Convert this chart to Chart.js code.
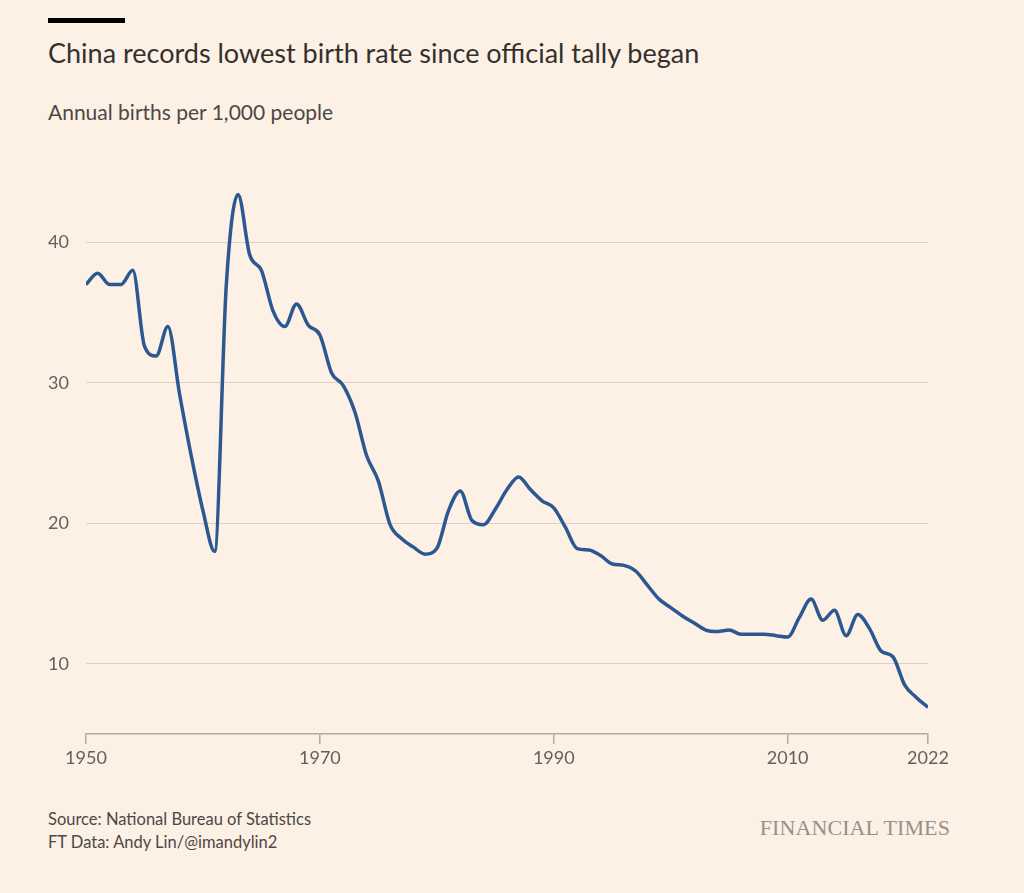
<!DOCTYPE html>
<html>
<head>
<meta charset="utf-8">
<script src="https://cdn.jsdelivr.net/npm/chart.js@4.4.1/dist/chart.umd.min.js"></script>
<style>
  html, body { margin: 0; padding: 0; }
  body {
    width: 1024px; height: 893px;
    background: #fdf0e5;
    position: relative;
    overflow: hidden;
    font-family: Lato, "Noto Sans", sans-serif;
    color: #33302e;
  }
  .bar { position: absolute; left: 48px; top: 18px; width: 77px; height: 5px; background: #000; }
  h1 { position: absolute; left: 48px; top: 36px; margin: 0; font-weight: 400; font-size: 27px; line-height: 34px; }
  .sub { position: absolute; left: 48px; top: 99px; font-size: 21px; line-height: 26px; color: #4d4845; }
  .chart-wrap { position: absolute; left: 48px; top: 150px; width: 976px; height: 630px; }
  .source { position: absolute; left: 48px; top: 808px; font-size: 16.5px; line-height: 23px; color: #4d4845; }
  .brand { position: absolute; right: 74px; top: 815px; font-family: "Liberation Serif", "DejaVu Serif", serif; font-size: 22px; color: #98908a; letter-spacing: 0.1px; }
</style>
</head>
<body>
<div class="bar"></div>
<h1>China records lowest birth rate since official tally began</h1>
<div class="sub">Annual births per 1,000 people</div>
<div class="chart-wrap"><canvas id="birthChart"></canvas></div>
<div class="source">Source: National Bureau of Statistics<br>FT Data: Andy Lin/@imandylin2</div>
<div class="brand">FINANCIAL TIMES</div>

<script>
// Dados: taxa de natalidade anual (por 1.000 pessoas)
const years = [];
for (let y = 1950; y <= 2022; y++) years.push(y);

const birthRate = [
  37.0, 37.8, 37.0, 37.0, 38.0, 32.6, 31.9, 34.0, 29.2, 24.8, // 1950-1959
  20.9, 18.0, 37.0, 43.4, 39.1, 38.0, 35.1, 34.0, 35.6, 34.1, // 1960-1969
  33.4, 30.7, 29.8, 27.9, 24.8, 23.0, 19.9, 18.9, 18.3, 17.8, // 1970-1979
  18.2, 20.9, 22.3, 20.2, 19.9, 21.0, 22.4, 23.3, 22.4, 21.6, // 1980-1989
  21.1, 19.7, 18.2, 18.1, 17.7, 17.1, 17.0, 16.6, 15.6, 14.6, // 1990-1999
  14.0, 13.4, 12.9, 12.4, 12.3, 12.4, 12.1, 12.1, 12.1, 12.0, // 2000-2009
  11.9, 13.3, 14.6, 13.1, 13.8, 12.0, 13.5, 12.5, 10.9, 10.5, // 2010-2019
  8.5, 7.6, 6.9                                               // 2020-2022
];

const xTicks = [1950, 1970, 1990, 2010, 2022];
const yTicks = [10, 20, 30, 40];

const points = years.map((y, i) => ({ x: y, y: birthRate[i] }));

const ctx = document.getElementById('birthChart').getContext('2d');

new Chart(ctx, {
  type: 'line',
  data: {
    datasets: [{
      label: 'Births per 1,000 people',
      data: points,
      borderColor: '#2c5891',
      borderWidth: 3.5,
      pointRadius: 0,
      fill: false,
      cubicInterpolationMode: 'monotone'
    }]
  },
  options: {
    responsive: true,
    maintainAspectRatio: false,
    animation: false,
    layout: { padding: { top: 22, right: 96, left: 0, bottom: 0 } },
    scales: {
      x: {
        type: 'linear',
        min: 1950,
        max: 2022,
        afterBuildTicks: s => { s.ticks = xTicks.map(v => ({ value: v })); },
        afterFit: s => { s.height = 46; },
        ticks: {
          color: '#66605c',
          font: { family: 'Lato, "Noto Sans", sans-serif', size: 18 },
          padding: 3,
          maxRotation: 0,
          callback: v => String(v)
        },
        grid: {
          drawOnChartArea: false,
          drawTicks: true,
          tickLength: 10,
          color: '#b3aaa2',
          lineWidth: 1.5
        },
        border: { display: true, color: '#b3aaa2', width: 1.5 }
      },
      y: {
        min: 5,
        max: 45,
        afterBuildTicks: s => { s.ticks = yTicks.map(v => ({ value: v })); },
        afterFit: s => { s.width = 38; },
        ticks: {
          color: '#66605c',
          font: { family: 'Lato, "Noto Sans", sans-serif', size: 18 },
          crossAlign: 'far',
          padding: 0
        },
        grid: {
          drawTicks: false,
          color: '#dcd1c7',
          lineWidth: 1
        },
        border: { display: false }
      }
    },
    plugins: {
      legend: { display: false },
      tooltip: { enabled: false }
    }
  }
});
</script>
</body>
</html>
